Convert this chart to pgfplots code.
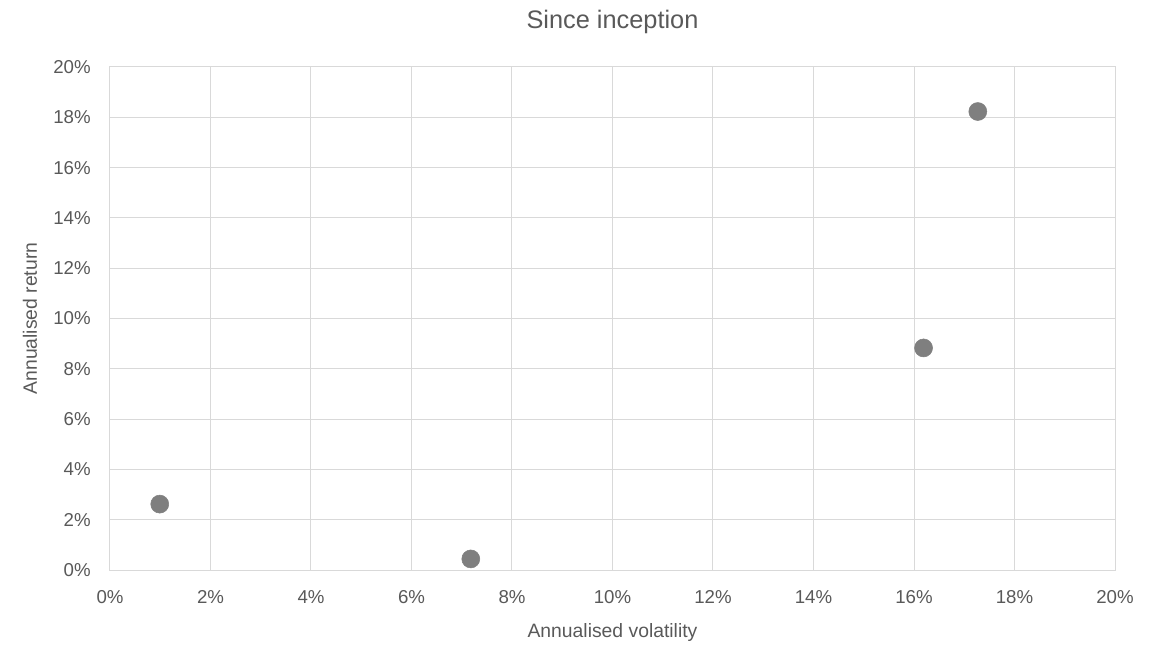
\documentclass[border=0pt]{standalone}
\usepackage{pgfplots}
\pgfplotsset{compat=1.18}
\usepackage{fontspec}
\setmainfont{Liberation Sans}
\definecolor{txt}{HTML}{595959}
\definecolor{gridc}{HTML}{D9D9D9}
\definecolor{dot}{HTML}{7F7F7F}
\begin{document}
\begin{tikzpicture}[x=0.75pt,y=0.75pt]
\path[use as bounding box] (-110,-74) rectangle (1055,570);
\begin{axis}[
    at={(0,0)}, anchor=south west,
    scale only axis,
    width=753.75pt, height=377.25pt,
    xmin=0, xmax=20, ymin=0, ymax=20,
    xtick={0,2,...,20}, ytick={0,2,...,20},
    xticklabel={\pgfmathprintnumber{\tick}\%},
    yticklabel={\pgfmathprintnumber{\tick}\%},
    /pgf/number format/assume math mode=true,
    tick label style={font=\fontsize{14}{16}\selectfont, text=txt},
    xticklabel style={yshift=-12pt},
    yticklabel style={xshift=-11pt},
    major tick length=0pt,
    grid=major,
    grid style={gridc, line width=0.75pt},
    axis line style={gridc, line width=0.75pt},
    xlabel={Annualised volatility},
    ylabel={Annualised return},
    label style={font=\fontsize{14.5}{17}\selectfont, text=txt},
    xlabel style={at={(0.5,0)}, anchor=center, yshift=-46.5pt},
    ylabel style={at={(0,0.5)}, anchor=center, yshift=60pt},
    title={Since inception},
    title style={font=\fontsize{19}{22}\selectfont, text=txt, at={(0.5,1)}, anchor=center, yshift=28pt},
    clip=false,
]
\addplot[only marks, mark=*, mark size=6.75pt, mark options={fill=dot, draw=dot}]
coordinates {(0.99,2.62) (7.18,0.44) (16.19,8.83) (17.27,18.23)};
\end{axis}
\end{tikzpicture}
\end{document}
